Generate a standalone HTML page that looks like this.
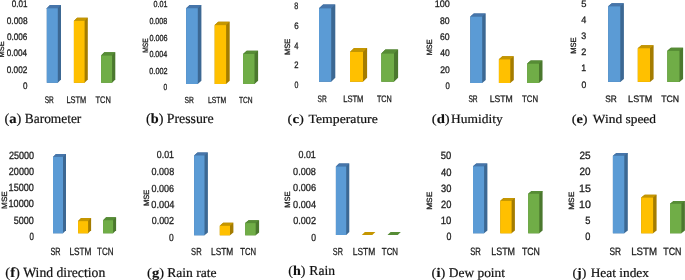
<!DOCTYPE html>
<html><head><meta charset="utf-8"><style>
html,body{margin:0;padding:0;background:#fff;overflow:hidden;}
svg{display:block;will-change:transform;}
text{text-rendering:geometricPrecision;}
.t{font-family:"Liberation Sans",sans-serif;font-size:9.8px;font-weight:normal;fill:#1e1e1e;stroke:#1e1e1e;stroke-width:0.3px;}
.c{font-family:"Liberation Sans",sans-serif;font-size:9.8px;font-weight:normal;fill:#1e1e1e;stroke:#1e1e1e;stroke-width:0.3px;}
.m{font-family:"Liberation Sans",sans-serif;font-size:7.6px;font-weight:normal;fill:#1e1e1e;stroke:#1e1e1e;stroke-width:0.3px;}
.pb{font-family:"Liberation Serif",serif;font-size:14px;font-weight:normal;fill:#111;stroke:#111;stroke-width:0.15px;}
.pr{font-family:"Liberation Serif",serif;font-size:14px;font-weight:normal;fill:#111;stroke:#111;stroke-width:0.2px;}
</style></head><body>
<svg width="685" height="280" viewBox="0 0 685 280">
<rect width="685" height="280" fill="#fff"/>
<polygon points="46.8,8.25 50,5.05 61,5.05 61,79.6 57.8,82.8 46.8,82.8" fill="#3C6893"/>
<polygon points="46.8,8.25 50,5.05 61,5.05 57.8,8.25" fill="#4675AA"/>
<rect x="46.8" y="8.25" width="11" height="74.55" fill="#5B9BD5"/>
<polygon points="73.9,20.9 77.1,17.7 87.8,17.7 87.8,79.6 84.6,82.8 73.9,82.8" fill="#A47C00"/>
<polygon points="73.9,20.9 77.1,17.7 87.8,17.7 84.6,20.9" fill="#C59600"/>
<rect x="73.9" y="20.9" width="10.7" height="61.9" fill="#FFC000"/>
<polygon points="101.1,55.5 104.3,52.3 115.3,52.3 115.3,79.6 112.1,82.8 101.1,82.8" fill="#4B782E"/>
<polygon points="101.1,55.5 104.3,52.3 115.3,52.3 112.1,55.5" fill="#568C35"/>
<rect x="101.1" y="55.5" width="11" height="27.3" fill="#70AD47"/>
<polygon points="186.1,8.2 189.7,4.9 201.4,4.9 201.4,80.7 197.8,84 186.1,84" fill="#3C6893"/>
<polygon points="186.1,8.2 189.7,4.9 201.4,4.9 197.8,8.2" fill="#4675AA"/>
<rect x="186.1" y="8.2" width="11.7" height="75.8" fill="#5B9BD5"/>
<polygon points="214.7,25.1 218.3,21.8 229.7,21.8 229.7,80.7 226.1,84 214.7,84" fill="#A47C00"/>
<polygon points="214.7,25.1 218.3,21.8 229.7,21.8 226.1,25.1" fill="#C59600"/>
<rect x="214.7" y="25.1" width="11.4" height="58.9" fill="#FFC000"/>
<polygon points="243.1,54 246.7,50.7 258.1,50.7 258.1,80.7 254.5,84 243.1,84" fill="#4B782E"/>
<polygon points="243.1,54 246.7,50.7 258.1,50.7 254.5,54" fill="#568C35"/>
<rect x="243.1" y="54" width="11.4" height="30" fill="#70AD47"/>
<polygon points="319,8.3 323.1,4.4 335.3,4.4 335.3,77.8 331.2,81.7 319,81.7" fill="#3C6893"/>
<polygon points="319,8.3 323.1,4.4 335.3,4.4 331.2,8.3" fill="#4675AA"/>
<rect x="319" y="8.3" width="12.2" height="73.4" fill="#5B9BD5"/>
<polygon points="350,52 354.1,48.1 367.1,48.1 367.1,77.8 363,81.7 350,81.7" fill="#A47C00"/>
<polygon points="350,52 354.1,48.1 367.1,48.1 363,52" fill="#C59600"/>
<rect x="350" y="52" width="13" height="29.7" fill="#FFC000"/>
<polygon points="381.3,53.5 385.4,49.6 398.1,49.6 398.1,77.8 394,81.7 381.3,81.7" fill="#4B782E"/>
<polygon points="381.3,53.5 385.4,49.6 398.1,49.6 394,53.5" fill="#568C35"/>
<rect x="381.3" y="53.5" width="12.7" height="28.2" fill="#70AD47"/>
<polygon points="470.3,16.6 473.8,13.5 485.7,13.5 485.7,79.9 482.2,83 470.3,83" fill="#3C6893"/>
<polygon points="470.3,16.6 473.8,13.5 485.7,13.5 482.2,16.6" fill="#4675AA"/>
<rect x="470.3" y="16.6" width="11.9" height="66.4" fill="#5B9BD5"/>
<polygon points="498.9,59.3 502.4,56.2 513.8,56.2 513.8,79.9 510.3,83 498.9,83" fill="#A47C00"/>
<polygon points="498.9,59.3 502.4,56.2 513.8,56.2 510.3,59.3" fill="#C59600"/>
<rect x="498.9" y="59.3" width="11.4" height="23.7" fill="#FFC000"/>
<polygon points="527.2,63.6 530.7,60.5 542.5,60.5 542.5,79.9 539,83 527.2,83" fill="#4B782E"/>
<polygon points="527.2,63.6 530.7,60.5 542.5,60.5 539,63.6" fill="#568C35"/>
<rect x="527.2" y="63.6" width="11.8" height="19.4" fill="#70AD47"/>
<polygon points="608.2,6.3 611.8,3.3 623.9,3.3 623.9,78.9 620.3,81.9 608.2,81.9" fill="#3C6893"/>
<polygon points="608.2,6.3 611.8,3.3 623.9,3.3 620.3,6.3" fill="#4675AA"/>
<rect x="608.2" y="6.3" width="12.1" height="75.6" fill="#5B9BD5"/>
<polygon points="637.8,48.2 641.4,45.2 653.6,45.2 653.6,78.9 650,81.9 637.8,81.9" fill="#A47C00"/>
<polygon points="637.8,48.2 641.4,45.2 653.6,45.2 650,48.2" fill="#C59600"/>
<rect x="637.8" y="48.2" width="12.2" height="33.7" fill="#FFC000"/>
<polygon points="667.3,50.8 670.9,47.8 683.1,47.8 683.1,78.9 679.5,81.9 667.3,81.9" fill="#4B782E"/>
<polygon points="667.3,50.8 670.9,47.8 683.1,47.8 679.5,50.8" fill="#568C35"/>
<rect x="667.3" y="50.8" width="12.2" height="31.1" fill="#70AD47"/>
<polygon points="53,156.9 56,153.9 66,153.9 66,230.3 63,233.3 53,233.3" fill="#3C6893"/>
<polygon points="53,156.9 56,153.9 66,153.9 63,156.9" fill="#4675AA"/>
<rect x="53" y="156.9" width="10" height="76.4" fill="#5B9BD5"/>
<polygon points="78.1,221.1 81.1,218.1 91.1,218.1 91.1,230.3 88.1,233.3 78.1,233.3" fill="#A47C00"/>
<polygon points="78.1,221.1 81.1,218.1 91.1,218.1 88.1,221.1" fill="#C59600"/>
<rect x="78.1" y="221.1" width="10" height="12.2" fill="#FFC000"/>
<polygon points="103.1,220.2 106.1,217.2 116.1,217.2 116.1,230.3 113.1,233.3 103.1,233.3" fill="#4B782E"/>
<polygon points="103.1,220.2 106.1,217.2 116.1,217.2 113.1,220.2" fill="#568C35"/>
<rect x="103.1" y="220.2" width="10" height="13.1" fill="#70AD47"/>
<polygon points="194.1,155.4 197.5,152.5 207.9,152.5 207.9,232.4 204.5,235.3 194.1,235.3" fill="#3C6893"/>
<polygon points="194.1,155.4 197.5,152.5 207.9,152.5 204.5,155.4" fill="#4675AA"/>
<rect x="194.1" y="155.4" width="10.4" height="79.9" fill="#5B9BD5"/>
<polygon points="219.8,225.7 223.2,222.8 233.4,222.8 233.4,232.4 230,235.3 219.8,235.3" fill="#A47C00"/>
<polygon points="219.8,225.7 223.2,222.8 233.4,222.8 230,225.7" fill="#C59600"/>
<rect x="219.8" y="225.7" width="10.2" height="9.6" fill="#FFC000"/>
<polygon points="245.2,223.1 248.6,220.2 259.1,220.2 259.1,232.4 255.7,235.3 245.2,235.3" fill="#4B782E"/>
<polygon points="245.2,223.1 248.6,220.2 259.1,220.2 255.7,223.1" fill="#568C35"/>
<rect x="245.2" y="223.1" width="10.5" height="12.2" fill="#70AD47"/>
<polygon points="335.9,166.5 339,163.6 349.3,163.6 349.3,232.1 346.2,235 335.9,235" fill="#3C6893"/>
<polygon points="335.9,166.5 339,163.6 349.3,163.6 346.2,166.5" fill="#4675AA"/>
<rect x="335.9" y="166.5" width="10.3" height="68.5" fill="#5B9BD5"/>
<polygon points="361.8,235 372.3,235 375.4,232.1 364.9,232.1" fill="#C59600"/>
<polygon points="387.5,235 397.7,235 400.8,232.1 390.6,232.1" fill="#568C35"/>
<polygon points="473,166.3 476.3,163.5 487.4,163.5 487.4,230.5 484.1,233.3 473,233.3" fill="#3C6893"/>
<polygon points="473,166.3 476.3,163.5 487.4,163.5 484.1,166.3" fill="#4675AA"/>
<rect x="473" y="166.3" width="11.1" height="67" fill="#5B9BD5"/>
<polygon points="500.3,200.8 503.6,198 514.9,198 514.9,230.5 511.6,233.3 500.3,233.3" fill="#A47C00"/>
<polygon points="500.3,200.8 503.6,198 514.9,198 511.6,200.8" fill="#C59600"/>
<rect x="500.3" y="200.8" width="11.3" height="32.5" fill="#FFC000"/>
<polygon points="528.2,193.7 531.5,190.9 542.6,190.9 542.6,230.5 539.3,233.3 528.2,233.3" fill="#4B782E"/>
<polygon points="528.2,193.7 531.5,190.9 542.6,190.9 539.3,193.7" fill="#568C35"/>
<rect x="528.2" y="193.7" width="11.1" height="39.6" fill="#70AD47"/>
<polygon points="612.9,155.7 616.4,152.9 627.8,152.9 627.8,230.5 624.3,233.3 612.9,233.3" fill="#3C6893"/>
<polygon points="612.9,155.7 616.4,152.9 627.8,152.9 624.3,155.7" fill="#4675AA"/>
<rect x="612.9" y="155.7" width="11.4" height="77.6" fill="#5B9BD5"/>
<polygon points="641.2,197.5 644.7,194.7 656.6,194.7 656.6,230.5 653.1,233.3 641.2,233.3" fill="#A47C00"/>
<polygon points="641.2,197.5 644.7,194.7 656.6,194.7 653.1,197.5" fill="#C59600"/>
<rect x="641.2" y="197.5" width="11.9" height="35.8" fill="#FFC000"/>
<polygon points="670,203.7 673.5,200.9 684.9,200.9 684.9,230.5 681.4,233.3 670,233.3" fill="#4B782E"/>
<polygon points="670,203.7 673.5,200.9 684.9,200.9 681.4,203.7" fill="#568C35"/>
<rect x="670" y="203.7" width="11.4" height="29.6" fill="#70AD47"/>
<text class="t" style="font-size:9.6px" x="11.64" y="7" textLength="15.79" lengthAdjust="spacingAndGlyphs">0.01</text>
<text class="t" style="font-size:9.6px" x="6.76" y="24" textLength="20.77" lengthAdjust="spacingAndGlyphs">0.008</text>
<text class="t" style="font-size:9.6px" x="6.89" y="40" textLength="20.44" lengthAdjust="spacingAndGlyphs">0.006</text>
<text class="t" style="font-size:9.6px" x="6.83" y="56" textLength="20.28" lengthAdjust="spacingAndGlyphs">0.004</text>
<text class="t" style="font-size:9.6px" x="6.73" y="73" textLength="20.57" lengthAdjust="spacingAndGlyphs">0.002</text>
<text class="t" style="font-size:9.6px" x="22.92" y="89" textLength="4.48" lengthAdjust="spacingAndGlyphs">0</text>
<text class="c" style="font-size:9.6px" x="44.75" y="103" textLength="9.04" lengthAdjust="spacingAndGlyphs">SR</text>
<text class="c" style="font-size:9.6px" x="66.47" y="103" textLength="19.77" lengthAdjust="spacingAndGlyphs">LSTM</text>
<text class="c" style="font-size:9.6px" x="95.56" y="103" textLength="15.32" lengthAdjust="spacingAndGlyphs">TCN</text>
<text class="m" transform="translate(3.82,57.46) rotate(-90)" textLength="16.13" lengthAdjust="spacingAndGlyphs">MSE</text>
<text class="pb" style="font-size:13.8px" x="4.49" y="122.7" textLength="17" lengthAdjust="spacingAndGlyphs">(<tspan font-weight="bold">a</tspan>)</text>
<text class="pr" style="font-size:13.8px" x="24.8" y="122.7" textLength="56.53" lengthAdjust="spacingAndGlyphs">Barometer</text>
<text class="t" style="font-size:8.8px" x="153.6" y="7" textLength="13.92" lengthAdjust="spacingAndGlyphs">0.01</text>
<text class="t" style="font-size:8.8px" x="149.4" y="24" textLength="17.79" lengthAdjust="spacingAndGlyphs">0.008</text>
<text class="t" style="font-size:8.8px" x="149.4" y="41" textLength="18.15" lengthAdjust="spacingAndGlyphs">0.006</text>
<text class="t" style="font-size:8.8px" x="149.39" y="57" textLength="17.9" lengthAdjust="spacingAndGlyphs">0.004</text>
<text class="t" style="font-size:8.8px" x="149.33" y="74" textLength="18.17" lengthAdjust="spacingAndGlyphs">0.002</text>
<text class="t" style="font-size:8.8px" x="163.47" y="90" textLength="3.7" lengthAdjust="spacingAndGlyphs">0</text>
<text class="c" style="font-size:8.8px" x="184.53" y="103" textLength="9.29" lengthAdjust="spacingAndGlyphs">SR</text>
<text class="c" style="font-size:8.8px" x="208.06" y="103" textLength="18.13" lengthAdjust="spacingAndGlyphs">LSTM</text>
<text class="c" style="font-size:8.8px" x="238.98" y="103" textLength="13.67" lengthAdjust="spacingAndGlyphs">TCN</text>
<text class="m" transform="translate(148.2,52.7) rotate(-90)" textLength="14.36" lengthAdjust="spacingAndGlyphs">MSE</text>
<text class="pb" style="font-size:13.9px" x="146.06" y="122.7" textLength="17.41" lengthAdjust="spacingAndGlyphs">(<tspan font-weight="bold">b</tspan>)</text>
<text class="pr" style="font-size:13.9px" x="166.75" y="122.7" textLength="46.8" lengthAdjust="spacingAndGlyphs">Pressure</text>
<text class="t" style="font-size:9.4px" x="294.16" y="9" textLength="4.02" lengthAdjust="spacingAndGlyphs">8</text>
<text class="t" style="font-size:9.4px" x="294.22" y="29" textLength="4.41" lengthAdjust="spacingAndGlyphs">6</text>
<text class="t" style="font-size:9.4px" x="294.15" y="49" textLength="4.22" lengthAdjust="spacingAndGlyphs">4</text>
<text class="t" style="font-size:9.4px" x="294.22" y="68" textLength="4.25" lengthAdjust="spacingAndGlyphs">2</text>
<text class="t" style="font-size:9.4px" x="294.39" y="88" textLength="3.9" lengthAdjust="spacingAndGlyphs">0</text>
<text class="c" style="font-size:9.4px" x="317.54" y="102" textLength="9.19" lengthAdjust="spacingAndGlyphs">SR</text>
<text class="c" style="font-size:9.4px" x="343.16" y="102" textLength="20.25" lengthAdjust="spacingAndGlyphs">LSTM</text>
<text class="c" style="font-size:9.4px" x="376.95" y="102" textLength="14.88" lengthAdjust="spacingAndGlyphs">TCN</text>
<text class="m" transform="translate(289.61,54.89) rotate(-90)" textLength="16.23" lengthAdjust="spacingAndGlyphs">MSE</text>
<text class="pb" style="font-size:12.6px" x="287.54" y="122.5" textLength="16.36" lengthAdjust="spacingAndGlyphs">(<tspan font-weight="bold">c</tspan>)</text>
<text class="pr" style="font-size:12.6px" x="308.61" y="122.5" textLength="69.12" lengthAdjust="spacingAndGlyphs">Temperature</text>
<text class="t" style="font-size:9.5px" x="434.65" y="7" textLength="15.17" lengthAdjust="spacingAndGlyphs">100</text>
<text class="t" style="font-size:9.5px" x="440.04" y="24" textLength="9.65" lengthAdjust="spacingAndGlyphs">80</text>
<text class="t" style="font-size:9.5px" x="440.02" y="40" textLength="9.65" lengthAdjust="spacingAndGlyphs">60</text>
<text class="t" style="font-size:9.5px" x="440.22" y="56" textLength="9.51" lengthAdjust="spacingAndGlyphs">40</text>
<text class="t" style="font-size:9.5px" x="440.17" y="73" textLength="9.54" lengthAdjust="spacingAndGlyphs">20</text>
<text class="t" style="font-size:9.5px" x="445.4" y="89" textLength="4.34" lengthAdjust="spacingAndGlyphs">0</text>
<text class="c" style="font-size:9.5px" x="468.44" y="102" textLength="9.23" lengthAdjust="spacingAndGlyphs">SR</text>
<text class="c" style="font-size:9.5px" x="489.76" y="102" textLength="23.04" lengthAdjust="spacingAndGlyphs">LSTM</text>
<text class="c" style="font-size:9.5px" x="522.08" y="102" textLength="15.98" lengthAdjust="spacingAndGlyphs">TCN</text>
<text class="m" transform="translate(432.31,55.23) rotate(-90)" textLength="15.7" lengthAdjust="spacingAndGlyphs">MSE</text>
<text class="pb" style="font-size:12.8px" x="431.81" y="122.5" textLength="17.92" lengthAdjust="spacingAndGlyphs">(<tspan font-weight="bold">d</tspan>)</text>
<text class="pr" style="font-size:12.8px" x="451.11" y="122.5" textLength="51.57" lengthAdjust="spacingAndGlyphs">Humidity</text>
<text class="t" style="font-size:9.3px" x="581.23" y="7" textLength="5.22" lengthAdjust="spacingAndGlyphs">5</text>
<text class="t" style="font-size:9.3px" x="581.34" y="23" textLength="5.05" lengthAdjust="spacingAndGlyphs">4</text>
<text class="t" style="font-size:9.3px" x="581.33" y="39" textLength="4.95" lengthAdjust="spacingAndGlyphs">3</text>
<text class="t" style="font-size:9.3px" x="581.13" y="55" textLength="5.09" lengthAdjust="spacingAndGlyphs">2</text>
<text class="t" style="font-size:9.3px" x="581.29" y="71" textLength="4.88" lengthAdjust="spacingAndGlyphs">1</text>
<text class="t" style="font-size:9.3px" x="581.5" y="88" textLength="4.78" lengthAdjust="spacingAndGlyphs">0</text>
<text class="c" style="font-size:9.3px" x="605.29" y="102" textLength="11.52" lengthAdjust="spacingAndGlyphs">SR</text>
<text class="c" style="font-size:9.3px" x="628.12" y="102" textLength="24.08" lengthAdjust="spacingAndGlyphs">LSTM</text>
<text class="c" style="font-size:9.3px" x="661.15" y="102" textLength="17.87" lengthAdjust="spacingAndGlyphs">TCN</text>
<text class="m" transform="translate(575.99,53.83) rotate(-90)" textLength="16.47" lengthAdjust="spacingAndGlyphs">MSE</text>
<text class="pb" style="font-size:12.4px" x="571.72" y="122.8" textLength="15.87" lengthAdjust="spacingAndGlyphs">(<tspan font-weight="bold">e</tspan>)</text>
<text class="pr" style="font-size:12.4px" x="592.89" y="122.8" textLength="63.12" lengthAdjust="spacingAndGlyphs">Wind speed</text>
<text class="t" style="font-size:10.5px" x="8.89" y="159" textLength="25.11" lengthAdjust="spacingAndGlyphs">25000</text>
<text class="t" style="font-size:10.5px" x="8.82" y="175" textLength="25.17" lengthAdjust="spacingAndGlyphs">20000</text>
<text class="t" style="font-size:10.5px" x="8.62" y="191" textLength="25.26" lengthAdjust="spacingAndGlyphs">15000</text>
<text class="t" style="font-size:10.5px" x="8.49" y="207" textLength="25.45" lengthAdjust="spacingAndGlyphs">10000</text>
<text class="t" style="font-size:10.5px" x="13.76" y="224" textLength="20.09" lengthAdjust="spacingAndGlyphs">5000</text>
<text class="t" style="font-size:10.5px" x="29.47" y="240" textLength="4.4" lengthAdjust="spacingAndGlyphs">0</text>
<text class="c" style="font-size:10.5px" x="50.5" y="255" textLength="10.09" lengthAdjust="spacingAndGlyphs">SR</text>
<text class="c" style="font-size:10.5px" x="69.49" y="255" textLength="22" lengthAdjust="spacingAndGlyphs">LSTM</text>
<text class="c" style="font-size:10.5px" x="97.02" y="255" textLength="16.48" lengthAdjust="spacingAndGlyphs">TCN</text>
<text class="m" transform="translate(6.53,208.88) rotate(-90)" textLength="17.6" lengthAdjust="spacingAndGlyphs">MSE</text>
<text class="pb" style="font-size:14.0px" x="5.25" y="277.2" textLength="14.69" lengthAdjust="spacingAndGlyphs">(<tspan font-weight="bold">f</tspan>)</text>
<text class="pr" style="font-size:14.0px" x="23.19" y="277.2" textLength="82.06" lengthAdjust="spacingAndGlyphs">Wind direction</text>
<text class="t" style="font-size:10.2px" x="156.85" y="158" textLength="17.12" lengthAdjust="spacingAndGlyphs">0.01</text>
<text class="t" style="font-size:10.2px" x="151.57" y="175" textLength="22.61" lengthAdjust="spacingAndGlyphs">0.008</text>
<text class="t" style="font-size:10.2px" x="151.62" y="192" textLength="22.51" lengthAdjust="spacingAndGlyphs">0.006</text>
<text class="t" style="font-size:10.2px" x="151.33" y="208" textLength="23.11" lengthAdjust="spacingAndGlyphs">0.004</text>
<text class="t" style="font-size:10.2px" x="151.7" y="224" textLength="22.37" lengthAdjust="spacingAndGlyphs">0.002</text>
<text class="t" style="font-size:10.2px" x="169.11" y="241" textLength="4.72" lengthAdjust="spacingAndGlyphs">0</text>
<text class="c" style="font-size:10.2px" x="191.09" y="255" textLength="10.51" lengthAdjust="spacingAndGlyphs">SR</text>
<text class="c" style="font-size:10.2px" x="211.04" y="255" textLength="22.16" lengthAdjust="spacingAndGlyphs">LSTM</text>
<text class="c" style="font-size:10.2px" x="240.3" y="255" textLength="15.8" lengthAdjust="spacingAndGlyphs">TCN</text>
<text class="m" transform="translate(148.53,206.12) rotate(-90)" textLength="16.4" lengthAdjust="spacingAndGlyphs">MSE</text>
<text class="pb" style="font-size:13.3px" x="147.04" y="277.4" textLength="16.99" lengthAdjust="spacingAndGlyphs">(<tspan font-weight="bold">g</tspan>)</text>
<text class="pr" style="font-size:13.3px" x="167.16" y="277.4" textLength="49.46" lengthAdjust="spacingAndGlyphs">Rain rate</text>
<text class="t" style="font-size:10.2px" x="298.5" y="158" textLength="17.32" lengthAdjust="spacingAndGlyphs">0.01</text>
<text class="t" style="font-size:10.2px" x="293.1" y="175" textLength="22.82" lengthAdjust="spacingAndGlyphs">0.008</text>
<text class="t" style="font-size:10.2px" x="293.11" y="191" textLength="22.95" lengthAdjust="spacingAndGlyphs">0.006</text>
<text class="t" style="font-size:10.2px" x="293.12" y="208" textLength="22.96" lengthAdjust="spacingAndGlyphs">0.004</text>
<text class="t" style="font-size:10.2px" x="293.21" y="224" textLength="22.75" lengthAdjust="spacingAndGlyphs">0.002</text>
<text class="t" style="font-size:10.2px" x="311.16" y="241" textLength="4.78" lengthAdjust="spacingAndGlyphs">0</text>
<text class="c" style="font-size:10.2px" x="332.83" y="255" textLength="10.02" lengthAdjust="spacingAndGlyphs">SR</text>
<text class="c" style="font-size:10.2px" x="352.7" y="255" textLength="22.51" lengthAdjust="spacingAndGlyphs">LSTM</text>
<text class="c" style="font-size:10.2px" x="381.83" y="255" textLength="16.23" lengthAdjust="spacingAndGlyphs">TCN</text>
<text class="m" transform="translate(289.99,207.83) rotate(-90)" textLength="16.47" lengthAdjust="spacingAndGlyphs">MSE</text>
<text class="pb" style="font-size:13.7px" x="288.24" y="274.6" textLength="17.19" lengthAdjust="spacingAndGlyphs">(<tspan font-weight="bold">h</tspan>)</text>
<text class="pr" style="font-size:13.7px" x="309.34" y="274.6" textLength="25.65" lengthAdjust="spacingAndGlyphs">Rain</text>
<text class="t" style="font-size:10.6px" x="440.86" y="159" textLength="10.5" lengthAdjust="spacingAndGlyphs">50</text>
<text class="t" style="font-size:10.6px" x="441.07" y="176" textLength="10.47" lengthAdjust="spacingAndGlyphs">40</text>
<text class="t" style="font-size:10.6px" x="441.1" y="192" textLength="10.34" lengthAdjust="spacingAndGlyphs">30</text>
<text class="t" style="font-size:10.6px" x="441.07" y="208" textLength="10.34" lengthAdjust="spacingAndGlyphs">20</text>
<text class="t" style="font-size:10.6px" x="440.74" y="224" textLength="10.62" lengthAdjust="spacingAndGlyphs">10</text>
<text class="t" style="font-size:10.6px" x="446.39" y="240" textLength="4.91" lengthAdjust="spacingAndGlyphs">0</text>
<text class="c" style="font-size:10.6px" x="470.14" y="255" textLength="10.67" lengthAdjust="spacingAndGlyphs">SR</text>
<text class="c" style="font-size:10.6px" x="491.24" y="255" textLength="23.8" lengthAdjust="spacingAndGlyphs">LSTM</text>
<text class="c" style="font-size:10.6px" x="521.95" y="255" textLength="17.98" lengthAdjust="spacingAndGlyphs">TCN</text>
<text class="m" transform="translate(431.93,209.85) rotate(-90)" textLength="18.12" lengthAdjust="spacingAndGlyphs">MSE</text>
<text class="pb" style="font-size:13.3px" x="431.61" y="277.1" textLength="13.69" lengthAdjust="spacingAndGlyphs">(<tspan font-weight="bold">i</tspan>)</text>
<text class="pr" style="font-size:13.3px" x="448.79" y="277.1" textLength="56.23" lengthAdjust="spacingAndGlyphs">Dew point</text>
<text class="t" style="font-size:10.6px" x="579.51" y="159" textLength="11.17" lengthAdjust="spacingAndGlyphs">25</text>
<text class="t" style="font-size:10.6px" x="579.47" y="175" textLength="11.08" lengthAdjust="spacingAndGlyphs">20</text>
<text class="t" style="font-size:10.6px" x="579.03" y="192" textLength="11.9" lengthAdjust="spacingAndGlyphs">15</text>
<text class="t" style="font-size:10.6px" x="579.01" y="208" textLength="11.82" lengthAdjust="spacingAndGlyphs">10</text>
<text class="t" style="font-size:10.6px" x="585.3" y="224" textLength="5.21" lengthAdjust="spacingAndGlyphs">5</text>
<text class="t" style="font-size:10.6px" x="585.23" y="240" textLength="5.14" lengthAdjust="spacingAndGlyphs">0</text>
<text class="c" style="font-size:10.6px" x="609.41" y="255" textLength="11.53" lengthAdjust="spacingAndGlyphs">SR</text>
<text class="c" style="font-size:10.6px" x="631.19" y="255" textLength="25.74" lengthAdjust="spacingAndGlyphs">LSTM</text>
<text class="c" style="font-size:10.6px" x="663.29" y="255" textLength="18.2" lengthAdjust="spacingAndGlyphs">TCN</text>
<text class="m" transform="translate(573.93,209.85) rotate(-90)" textLength="18.12" lengthAdjust="spacingAndGlyphs">MSE</text>
<text class="pb" style="font-size:13.0px" x="572.47" y="277.3" textLength="13.89" lengthAdjust="spacingAndGlyphs">(<tspan font-weight="bold">j</tspan>)</text>
<text class="pr" style="font-size:13.0px" x="590.7" y="277.3" textLength="58.28" lengthAdjust="spacingAndGlyphs">Heat index</text>
</svg>
</body></html>
